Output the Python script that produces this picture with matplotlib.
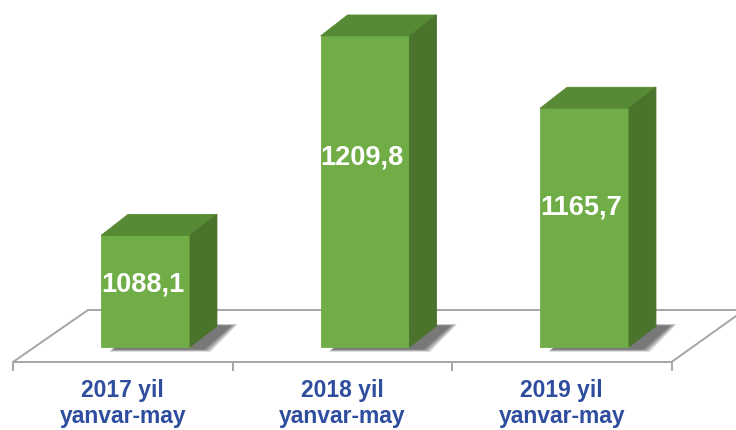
import numpy as np
import matplotlib.pyplot as plt
from matplotlib.patches import Polygon

plt.rcParams['font.family'] = ['Liberation Sans', 'DejaVu Sans']

years = ['2017 yil', '2018 yil', '2019 yil']
period = ['yanvar-may', 'yanvar-may', 'yanvar-may']
values = [1088.1, 1209.8, 1165.7]
value_labels = ['1088,1', '1209,8', '1165,7']

base = 1020  # value axis minimum

W, H = 736, 430
xpx = 219.5    # pixels per category
ypx = 1.6386   # pixels per value unit

fig = plt.figure(figsize=(W / 100, H / 100), dpi=100)
ax = fig.add_axes([0, 0, 1, 1])
ax.set_xlim(-145.5 / xpx, (W - 145.5) / xpx)
ax.set_ylim(base - (H - 347) / ypx, base + 347 / ypx)
ax.axis('off')


def dx(p):
    return p / xpx


def dy(p):
    return p / ypx


front_c = '#70AD47'
top_c = '#578A34'
side_c = '#4A732C'
edge_c = '#A6A6A6'
text_blue = '#2F4D9E'

x = np.arange(len(values))
w = 0.405
n = len(values)

# floor
f_front = base - dy(15)
fx0 = -0.5 - dx(22.75)
fx1 = n - 0.5 - dx(22.75)
floor = Polygon([(fx0, f_front), (fx1, f_front),
                 (fx1 + dx(73), f_front + dy(52)), (fx0 + dx(75), f_front + dy(52))],
                closed=True, facecolor='white', edgecolor=edge_c, lw=1.4, zorder=1)
ax.add_patch(floor)
for i in range(n + 1):
    xt = i - 0.5 - dx(22.75)
    ax.plot([xt, xt], [f_front, f_front - dy(8)], color=edge_c, lw=1.4, zorder=1)

# soft shadows on the floor
for xi in x:
    for k in range(8):
        e = 8 - k
        sx = xi + dx(13)
        pts = [(sx - w / 2 - dx(e) * 0.6, base - dy(2) - dy(e) * 0.35),
               (sx + w / 2 + dx(e), base - dy(2) - dy(e) * 0.35),
               (sx + w / 2 + dx(27) + dx(e), base + dy(21) + dy(e) * 0.25),
               (sx - w / 2 + dx(27) - dx(e) * 0.6, base + dy(21) + dy(e) * 0.25)]
        ax.add_patch(Polygon(pts, closed=True, facecolor='#1a1a1a', edgecolor='none',
                             alpha=0.1, zorder=2))

# bars
ax.bar(x, np.array(values) - base, bottom=base, width=w, color=front_c,
       edgecolor=front_c, lw=0.6, zorder=3)
for xi, v in zip(x, values):
    top = [(xi - w / 2, v), (xi + w / 2, v),
           (xi + w / 2 + dx(27), v + dy(21)), (xi - w / 2 + dx(27), v + dy(21))]
    side = [(xi + w / 2, base), (xi + w / 2, v),
            (xi + w / 2 + dx(27), v + dy(21)), (xi + w / 2 + dx(27), base + dy(21))]
    ax.add_patch(Polygon(top, closed=True, facecolor=top_c, edgecolor=top_c,
                         lw=0.6, zorder=3))
    ax.add_patch(Polygon(side, closed=True, facecolor=side_c, edgecolor=side_c,
                         lw=0.6, zorder=3))

# value labels
label_frac = [0.56, 0.61, 0.585]
for xi, v, lab, fr in zip(x, values, value_labels, label_frac):
    ax.text(xi - dx(3), base + (v - base) * fr, lab, ha='center', va='center',
            color='white', fontsize=19.5, fontweight='bold', zorder=5)

# category labels
for i in range(n):
    xc = i - dx(22.75)
    ax.text(xc, f_front - dy(29), years[i], ha='center', va='center',
            color=text_blue, fontsize=16.5, fontweight='bold')
    ax.text(xc, f_front - dy(54), period[i], ha='center', va='center',
            color=text_blue, fontsize=16.5, fontweight='bold')

fig.savefig('out.png', dpi=100)
